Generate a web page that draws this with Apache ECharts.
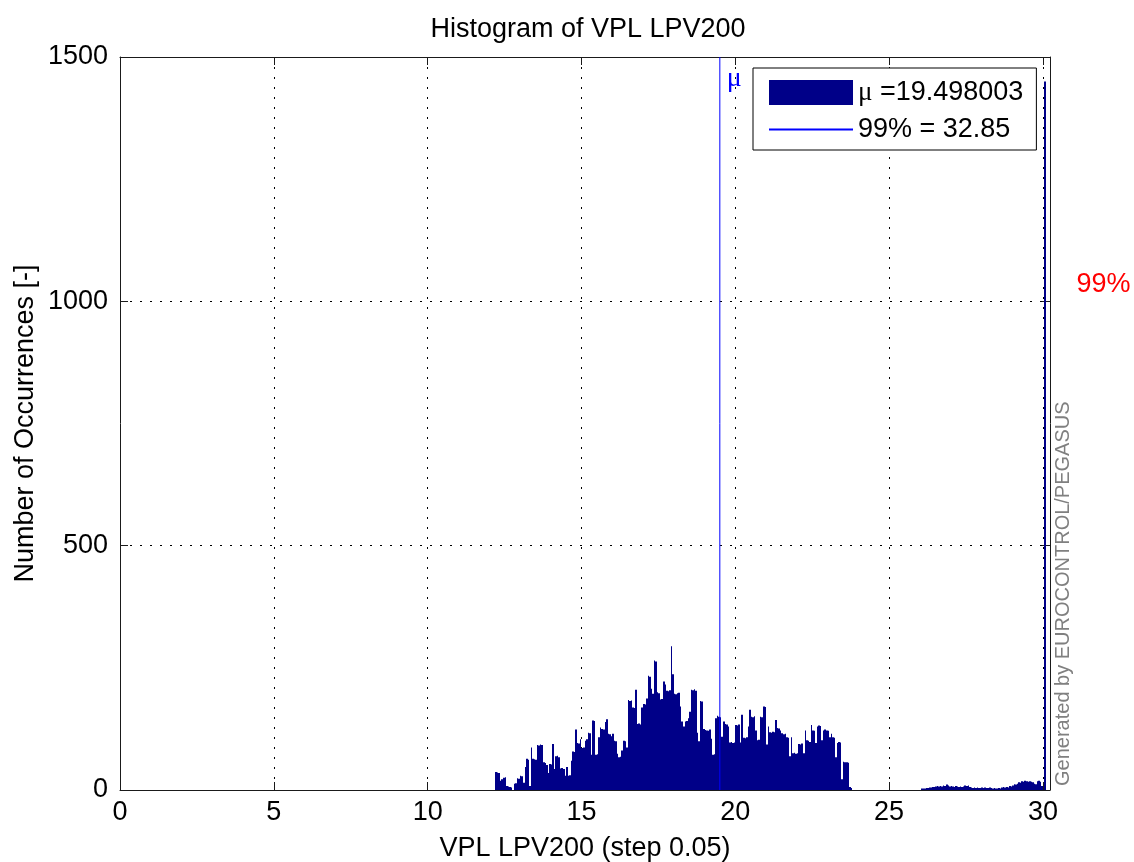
<!DOCTYPE html>
<html><head><meta charset="utf-8">
<script src="https://cdn.jsdelivr.net/npm/echarts/dist/echarts.min.js"></script>
<style>html,body{margin:0;padding:0;background:#fff}#c{width:1134px;height:862px}</style>
</head><body><div id="c"></div>
<script>
// ---- data ----
const titleText = 'Histogram of VPL LPV200';
const xName = 'VPL LPV200 (step 0.05)';
const yName = 'Number of Occurrences [-]';
const binStep = 0.05;
const mainStart = 12.2;
const mainCounts = [
  37, 36, 35, 19, 22, 25, 26, 8, 7, 6,
  5, 0, 13, 14, 24, 23, 29, 28, 15, 47,
  64, 62, 8, 87, 64, 63, 62, 92, 91, 93,
  92, 57, 55, 51, 35, 53, 52, 94, 43, 69,
  70, 67, 44, 45, 43, 29, 47, 29, 30, 60,
  79, 78, 124, 96, 95, 104, 86, 87, 101, 104,
  117, 116, 72, 142, 141, 72, 73, 108, 128, 125,
  124, 139, 145, 115, 114, 110, 115, 101, 100, 74,
  67, 68, 81, 101, 100, 87, 184, 182, 183, 169,
  168, 205, 135, 136, 134, 169, 176, 175, 187, 234,
  232, 207, 197, 265, 263, 200, 198, 185, 186, 222,
  216, 203, 202, 204, 294, 237, 197, 196, 198, 199,
  171, 140, 130, 140, 141, 147, 160, 205, 204, 206,
  203, 117, 100, 182, 181, 125, 123, 122, 121, 124,
  105, 72, 73, 147, 152, 150, 149, 109, 140, 135,
  134, 130, 97, 98, 96, 97, 133, 132, 134, 97,
  154, 107, 106, 108, 130, 164, 150, 149, 151, 122,
  102, 103, 150, 149, 171, 170, 93, 130, 118, 117,
  119, 118, 143, 127, 126, 122, 116, 114, 115, 108,
  107, 69, 108, 75, 76, 74, 75, 94, 93, 95,
  75, 122, 102, 101, 98, 133, 122, 121, 96, 130,
  132, 131, 102, 122, 124, 122, 121, 108, 115, 108,
  107, 67, 96, 98, 97, 22, 58, 57, 57, 56,
  6, 4
];
const tailStart = 26.05;
const tailCounts = [
  3, 3, 3, 4, 4, 5, 5, 6, 6, 7,
  8, 7, 8, 7, 9, 8, 11, 9, 7, 8,
  7, 6, 8, 7, 6, 7, 6, 7, 9, 8,
  9, 6, 5, 4, 5, 4, 5, 4, 4, 5,
  4, 5, 4, 4, 5, 4, 3, 4, 3, 3,
  4, 3, 5, 6, 5, 6, 5, 8, 7, 9,
  12, 11, 13, 16, 15, 18, 17, 19, 18, 17,
  18, 17, 16, 13, 12, 18, 19, 17, 8
];
const overflowBinStart = 30.05;
const overflowCount = 1450;
const meanValue = 19.498003;
const p99Value = 32.85;
const legendNames = ['\u03bc =19.498003', '99% = 32.85'];
const xMin = 0, xMax = 30.23, xInterval = 5;
const yMin = 0, yMax = 1500, yInterval = 500;

// ---- build series data ----
const histData = [];
mainCounts.forEach((v, i) => histData.push([+(mainStart + i * binStep).toFixed(2), v]));
tailCounts.forEach((v, i) => histData.push([+(tailStart + i * binStep).toFixed(2), v]));
histData.push([overflowBinStart, overflowCount]);

const FONT = 'Liberation Sans, Arial, sans-serif';
const FS = 27;
const chart = echarts.init(document.getElementById('c'), null, {renderer: 'canvas'});

function renderBar(params, api) {
  const x0 = api.value(0), v = api.value(1);
  const p0 = api.coord([x0, 0]);
  const p1 = api.coord([x0 + binStep, v]);
  const xa = Math.round(p0[0]), xb = Math.max(Math.round(p1[0]), xa + 1);
  return {
    type: 'rect',
    shape: {x: xa, y: p1[1], width: xb - xa, height: p0[1] - p1[1]},
    style: {fill: '#000088'}
  };
}

const axisLineStyle = {color: '#1a1a1a', width: 1};
const gridDash = {color: '#000', width: 1, type: [2, 8]};

chart.setOption({
  animation: false,
  backgroundColor: '#fff',
  title: {
    text: titleText, left: 583, top: 11, textAlign: 'center',
    textStyle: {fontFamily: FONT, fontSize: FS, fontWeight: 'normal', color: '#000'}
  },
  grid: {left: 120, right: 84, top: 57, bottom: 72, containLabel: false, outerBoundsMode: 'none'},
  legend: {
    orient: 'vertical', left: 753, top: 68,
    padding: [11, 13, 7, 15], itemGap: 10, itemWidth: 84, itemHeight: 25,
    backgroundColor: '#fff', borderColor: '#000', borderWidth: 1, borderRadius: 0,
    selectedMode: false,
    textStyle: {fontFamily: FONT, fontSize: FS, color: '#000', lineHeight: 25,
      rich: {mu: {fontFamily: 'Liberation Serif, serif', fontSize: FS, color: '#000', lineHeight: 25}}},
    formatter: n => n.charAt(0) === '\u03bc' ? '{mu|\u03bc}' + n.slice(1) : n,
    data: [
      {name: legendNames[0], icon: 'rect'},
      {name: legendNames[1], itemStyle: {opacity: 0, borderWidth: 0}}
    ]
  },
  xAxis: [{
    type: 'value', min: xMin, max: xMax, interval: xInterval, position: 'bottom',
    name: xName, nameLocation: 'middle', nameGap: 45,
    nameTextStyle: {fontFamily: FONT, fontSize: FS, color: '#000'},
    axisLine: {show: true, onZero: false, lineStyle: axisLineStyle},
    axisTick: {show: true, inside: true, length: 8, lineStyle: axisLineStyle},
    axisLabel: {fontFamily: FONT, fontSize: FS, color: '#000', margin: 9,
      formatter: v => (Math.abs(v / xInterval - Math.round(v / xInterval)) < 1e-9 ? String(Math.round(v)) : '')},
    splitLine: {show: true, lineStyle: gridDash}
  }, {
    type: 'value', min: xMin, max: xMax, interval: xInterval, position: 'top',
    axisLine: {show: true, onZero: false, lineStyle: axisLineStyle},
    axisTick: {show: true, inside: true, length: 8, lineStyle: axisLineStyle},
    axisLabel: {show: false}, splitLine: {show: false}
  }],
  yAxis: [{
    type: 'value', min: yMin, max: yMax, interval: yInterval, position: 'left',
    name: yName, nameLocation: 'middle', nameGap: 81, nameRotate: 90, nameMoveOverlap: false,
    nameTextStyle: {fontFamily: FONT, fontSize: FS, color: '#000'},
    axisLine: {show: true, onZero: false, lineStyle: axisLineStyle},
    axisTick: {show: true, inside: true, length: 8, lineStyle: axisLineStyle},
    axisLabel: {fontFamily: FONT, fontSize: FS, color: '#000', margin: 12,
      formatter: v => String(v)},
    splitLine: {show: true, lineStyle: gridDash}
  }, {
    type: 'value', min: yMin, max: yMax, interval: yInterval, position: 'right',
    axisLine: {show: true, onZero: false, lineStyle: axisLineStyle},
    axisTick: {show: true, inside: true, length: 8, lineStyle: axisLineStyle},
    axisLabel: {show: false}, splitLine: {show: false}
  }],
  series: [{
    name: legendNames[0], type: 'custom', xAxisIndex: 0, yAxisIndex: 0,
    renderItem: renderBar, encode: {x: 0, y: 1}, data: histData, clip: true,
    itemStyle: {color: '#000088'}, z: 2
  }, {
    name: legendNames[1], type: 'line', xAxisIndex: 0, yAxisIndex: 0,
    data: [[meanValue, yMin], [meanValue, yMax]], symbol: 'none', showSymbol: false,
    lineStyle: {color: '#0000ff', width: 1}, itemStyle: {color: '#0000ff'}, z: 3
  }, {
    name: '99% line', type: 'line', xAxisIndex: 0, yAxisIndex: 0,
    data: [[p99Value, yMin], [p99Value, yMax]], symbol: 'none', clip: true,
    lineStyle: {color: '#ff0000', width: 1}, z: 3
  }]
});

// annotations positioned through the chart's own scales
const muPt = chart.convertToPixel({xAxisIndex: 0, yAxisIndex: 0}, [meanValue, 1455]);
const p99Pt = chart.convertToPixel({xAxisIndex: 0, yAxisIndex: 0}, [p99Value, 1035]);
const cornerPt = chart.convertToPixel({xAxisIndex: 0, yAxisIndex: 0}, [xMax, yMin]);
chart.setOption({
  graphic: [{
    type: 'text', x: muPt[0] + 7, y: muPt[1],
    style: {text: '\u03bc', fontFamily: 'Liberation Serif, serif', fontSize: 28, fill: '#0000ff',
      align: 'left', verticalAlign: 'middle'}
  }, {
    type: 'text', x: p99Pt[0], y: p99Pt[1],
    style: {text: '99%', fontFamily: FONT, fontSize: FS, fill: '#ff0000',
      align: 'right', verticalAlign: 'middle'}
  }, {
    type: 'text', x: cornerPt[0] + 13, y: cornerPt[1] - 4, rotation: Math.PI / 2,
    style: {text: 'Generated by EUROCONTROL/PEGASUS', fontFamily: FONT, fontSize: 20, fill: '#808080',
      align: 'left', verticalAlign: 'middle'}
  }]
});
</script></body></html>
